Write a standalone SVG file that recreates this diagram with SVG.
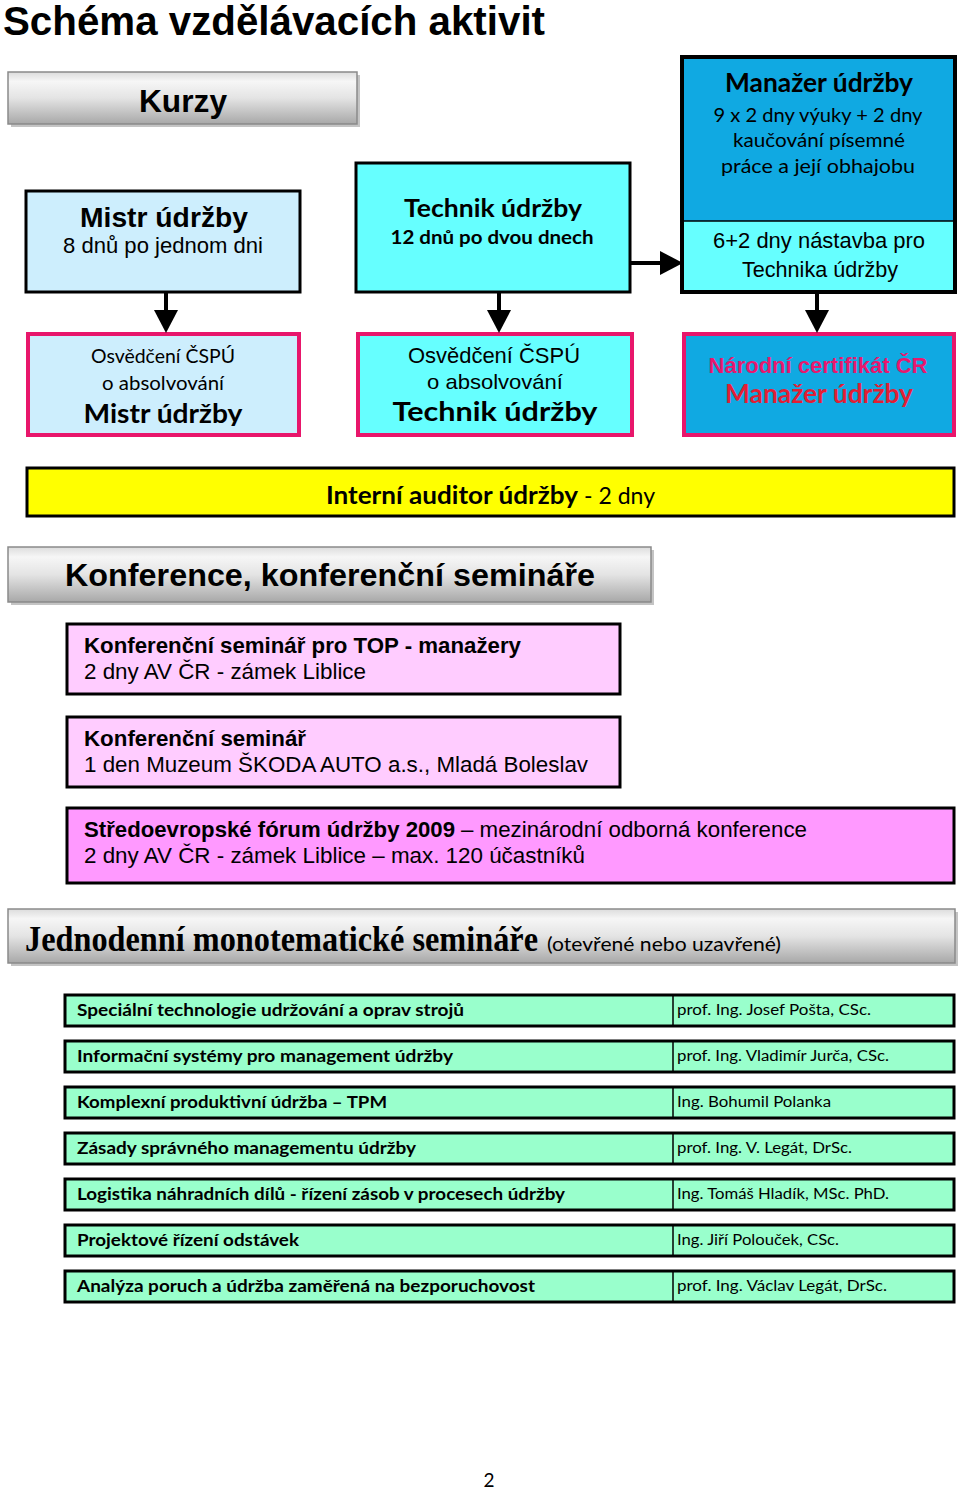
<svg xmlns="http://www.w3.org/2000/svg" width="960" height="1492" viewBox="0 0 960 1492">
<style>
.ar{font-family:"Liberation Sans",Arial,sans-serif}
.ca{font-family:Lato,"Open Sans",sans-serif}
.tm{font-family:"Liberation Serif","Times New Roman",serif}
.b{font-weight:bold}
.hdr{fill:url(#gray);stroke:#8a8a8a;stroke-width:1.5}
.shd{fill:#c4c4c4}
.box{stroke:#000;stroke-width:3}
.cert{stroke:#e8166b;stroke-width:4}
.row{fill:#99ffcc;stroke:#000;stroke-width:3}
.conn{stroke:#000;stroke-width:4;fill:none}
</style>
<defs>
<linearGradient id="gray" x1="0" y1="0" x2="0" y2="1">
<stop offset="0" stop-color="#dcdcdc"/>
<stop offset="0.18" stop-color="#f6f6f6"/>
<stop offset="0.5" stop-color="#e4e4e4"/>
<stop offset="1" stop-color="#a8a8a8"/>
</linearGradient>
<marker id="ah" markerUnits="userSpaceOnUse" markerWidth="24" markerHeight="24" viewBox="0 0 22 23" refX="0" refY="11.5" orient="auto">
<path d="M0,0 L22,11.5 L0,23 z" fill="#000"/>
</marker>
<clipPath id="clipMistr"><rect x="26" y="332" width="275" height="94"/></clipPath>
</defs>
<rect width="960" height="1492" fill="#fff"/>

<text x="3" y="35" class="ar b" font-size="40" textLength="542" lengthAdjust="spacingAndGlyphs">Schéma vzdělávacích aktivit</text>

<g id="kurzy">
<rect x="11" y="75" width="349" height="52" class="shd"/>
<rect x="8" y="72" width="349" height="52" class="hdr"/>
<text x="183" y="112" class="ar b" font-size="32" text-anchor="middle" textLength="88" lengthAdjust="spacingAndGlyphs">Kurzy</text>
</g>

<g id="mistr">
<rect x="26" y="191" width="274" height="101" fill="#cdeefd" class="box"/>
<text x="164" y="227" class="ar b" font-size="28" text-anchor="middle" textLength="168" lengthAdjust="spacingAndGlyphs">Mistr údržby</text>
<text x="163" y="253" class="ar" font-size="22" text-anchor="middle" textLength="200" lengthAdjust="spacingAndGlyphs">8 dnů po jednom dni</text>
</g>

<g id="technik">
<rect x="356" y="163" width="274" height="129" fill="#66ffff" class="box"/>
<text x="493" y="217" class="ca b" font-size="25" text-anchor="middle" textLength="178" lengthAdjust="spacingAndGlyphs">Technik údržby</text>
<text x="492" y="244" class="ca b" font-size="19" text-anchor="middle" textLength="203" lengthAdjust="spacingAndGlyphs">12 dnů po dvou dnech</text>
</g>

<g id="manazer">
<rect x="682" y="57" width="273" height="164" fill="#10a9e2"/>
<rect x="682" y="221" width="273" height="71" fill="#66ffff"/>
<line x1="682" y1="221" x2="955" y2="221" stroke="#000" stroke-width="1.5"/>
<rect x="682" y="57" width="273" height="235" fill="none" stroke="#000" stroke-width="4"/>
<text x="819" y="92" class="ca b" font-size="27" text-anchor="middle" textLength="188" lengthAdjust="spacingAndGlyphs">Manažer údržby</text>
<text x="818" y="122" class="ca" font-size="20" text-anchor="middle" textLength="209" lengthAdjust="spacingAndGlyphs">9 x 2 dny výuky + 2 dny</text>
<text x="819" y="147" class="ca" font-size="20" text-anchor="middle" textLength="172" lengthAdjust="spacingAndGlyphs">kaučování písemné</text>
<text x="818" y="173" class="ca" font-size="20" text-anchor="middle" textLength="194" lengthAdjust="spacingAndGlyphs">práce a její obhajobu</text>
<text x="819" y="248" class="ar" font-size="22" text-anchor="middle" textLength="212" lengthAdjust="spacingAndGlyphs">6+2 dny nástavba pro</text>
<text x="820" y="277" class="ar" font-size="22" text-anchor="middle" textLength="156" lengthAdjust="spacingAndGlyphs">Technika údržby</text>
</g>

<g id="cert-mistr">
<rect x="28" y="334" width="271" height="101" fill="#cdeefd" class="cert"/>
<text x="163" y="363" class="ca" font-size="20" text-anchor="middle" textLength="144" lengthAdjust="spacingAndGlyphs">Osvědčení ČSPÚ</text>
<text x="163" y="390" class="ca" font-size="20" text-anchor="middle" textLength="122" lengthAdjust="spacingAndGlyphs">o absolvování</text>
<text x="163" y="423" class="ca b" font-size="27" text-anchor="middle" textLength="159" lengthAdjust="spacingAndGlyphs" clip-path="url(#clipMistr)">Mistr údržby</text>
</g>

<g id="cert-technik">
<rect x="358" y="334" width="274" height="101" fill="#66ffff" class="cert"/>
<text x="494" y="363" class="ar" font-size="22" text-anchor="middle" textLength="172" lengthAdjust="spacingAndGlyphs">Osvědčení ČSPÚ</text>
<text x="495" y="389" class="ar" font-size="21" text-anchor="middle" textLength="136" lengthAdjust="spacingAndGlyphs">o absolvování</text>
<text x="495" y="421" class="ca b" font-size="27" text-anchor="middle" textLength="205" lengthAdjust="spacingAndGlyphs">Technik údržby</text>
</g>

<g id="cert-manazer">
<rect x="684" y="334" width="270" height="101" fill="#10a9e2" class="cert"/>
<text x="818" y="373" class="ar b" font-size="22" fill="#e8186e" text-anchor="middle" textLength="219" lengthAdjust="spacingAndGlyphs">Národní certifikát ČR</text>
<text x="819" y="403" class="ca b" font-size="27" fill="#e21e35" text-anchor="middle" textLength="188" lengthAdjust="spacingAndGlyphs">Manažer údržby</text>
</g>

<g id="auditor">
<rect x="27" y="468" width="927" height="48" fill="#ffff00" class="box"/>
<text x="326" y="504" class="ca b" font-size="24" textLength="252" lengthAdjust="spacingAndGlyphs">Interní auditor údržby</text>
<text x="584" y="504" class="ca" font-size="24" textLength="71" lengthAdjust="spacingAndGlyphs">- 2 dny</text>
</g>

<g id="connectors">
<line x1="166" y1="292" x2="166" y2="310" class="conn" marker-end="url(#ah)"/>
<line x1="499" y1="292" x2="499" y2="310" class="conn" marker-end="url(#ah)"/>
<line x1="817" y1="292" x2="817" y2="310" class="conn" marker-end="url(#ah)"/>
<line x1="630" y1="263" x2="660" y2="263" class="conn" marker-end="url(#ah)"/>
</g>

<g id="konference">
<rect x="11" y="550" width="643" height="55" class="shd"/>
<rect x="8" y="547" width="643" height="55" class="hdr"/>
<text x="65" y="586" class="ar b" font-size="32" textLength="530" lengthAdjust="spacingAndGlyphs">Konference, konferenční semináře</text>
</g>

<g id="konf-top">
<rect x="67" y="624" width="553" height="70" fill="#ffccff" class="box"/>
<text x="84" y="653" class="ar b" font-size="22" textLength="437" lengthAdjust="spacingAndGlyphs">Konferenční seminář pro TOP - manažery</text>
<text x="84" y="679" class="ar" font-size="22" textLength="282" lengthAdjust="spacingAndGlyphs">2 dny AV ČR - zámek Liblice</text>
</g>

<g id="konf-skoda">
<rect x="67" y="717" width="553" height="70" fill="#ffccff" class="box"/>
<text x="84" y="746" class="ar b" font-size="22" textLength="222" lengthAdjust="spacingAndGlyphs">Konferenční seminář</text>
<text x="84" y="772" class="ar" font-size="22" textLength="504" lengthAdjust="spacingAndGlyphs">1 den Muzeum ŠKODA AUTO a.s., Mladá Boleslav</text>
</g>

<g id="konf-forum">
<rect x="67" y="808" width="887" height="75" fill="#ff99ff" class="box"/>
<text x="84" y="837" class="ar b" font-size="22" textLength="371" lengthAdjust="spacingAndGlyphs">Středoevropské fórum údržby 2009</text>
<text x="461" y="837" class="ar" font-size="22" textLength="346" lengthAdjust="spacingAndGlyphs">– mezinárodní odborná konference</text>
<text x="84" y="863" class="ar" font-size="22" textLength="501" lengthAdjust="spacingAndGlyphs">2 dny AV ČR - zámek Liblice – max. 120 účastníků</text>
</g>

<g id="jednodenni">
<rect x="11" y="912" width="947" height="54" class="shd"/>
<rect x="8" y="909" width="947" height="54" class="hdr"/>
<text transform="translate(25,951) scale(1,1.1)" x="0" y="0" class="tm b" font-size="32" textLength="513" lengthAdjust="spacingAndGlyphs">Jednodenní monotematické semináře</text>
<text x="547" y="951" class="ca" font-size="19" textLength="234" lengthAdjust="spacingAndGlyphs">(otevřené nebo uzavřené)</text>
</g>

<g id="sem1">
<rect x="65" y="995" width="889" height="31" class="row"/>
<line x1="673" y1="995" x2="673" y2="1026" stroke="#000" stroke-width="1.5"/>
<text x="77" y="1016" class="ca b" font-size="17" textLength="387" lengthAdjust="spacingAndGlyphs">Speciální technologie udržování a oprav strojů</text>
<text x="677" y="1015" class="ca" font-size="15.5" textLength="194" lengthAdjust="spacingAndGlyphs">prof. Ing. Josef Pošta, CSc.</text>
</g>
<g id="sem2">
<rect x="65" y="1041" width="889" height="31" class="row"/>
<line x1="673" y1="1041" x2="673" y2="1072" stroke="#000" stroke-width="1.5"/>
<text x="77" y="1062" class="ca b" font-size="17" textLength="376" lengthAdjust="spacingAndGlyphs">Informační systémy pro management údržby</text>
<text x="677" y="1061" class="ca" font-size="15.5" textLength="212" lengthAdjust="spacingAndGlyphs">prof. Ing. Vladimír Jurča, CSc.</text>
</g>
<g id="sem3">
<rect x="65" y="1087" width="889" height="31" class="row"/>
<line x1="673" y1="1087" x2="673" y2="1118" stroke="#000" stroke-width="1.5"/>
<text x="77" y="1108" class="ca b" font-size="17" textLength="310" lengthAdjust="spacingAndGlyphs">Komplexní produktivní údržba – TPM</text>
<text x="677" y="1107" class="ca" font-size="15.5" textLength="154" lengthAdjust="spacingAndGlyphs">Ing. Bohumil Polanka</text>
</g>
<g id="sem4">
<rect x="65" y="1133" width="889" height="31" class="row"/>
<line x1="673" y1="1133" x2="673" y2="1164" stroke="#000" stroke-width="1.5"/>
<text x="77" y="1154" class="ca b" font-size="17" textLength="339" lengthAdjust="spacingAndGlyphs">Zásady správného managementu údržby</text>
<text x="677" y="1153" class="ca" font-size="15.5" textLength="175" lengthAdjust="spacingAndGlyphs">prof. Ing. V. Legát, DrSc.</text>
</g>
<g id="sem5">
<rect x="65" y="1179" width="889" height="31" class="row"/>
<line x1="673" y1="1179" x2="673" y2="1210" stroke="#000" stroke-width="1.5"/>
<text x="77" y="1200" class="ca b" font-size="17" textLength="488" lengthAdjust="spacingAndGlyphs">Logistika náhradních dílů - řízení zásob v procesech údržby</text>
<text x="677" y="1199" class="ca" font-size="15.5" textLength="212" lengthAdjust="spacingAndGlyphs">Ing. Tomáš Hladík, MSc. PhD.</text>
</g>
<g id="sem6">
<rect x="65" y="1225" width="889" height="31" class="row"/>
<line x1="673" y1="1225" x2="673" y2="1256" stroke="#000" stroke-width="1.5"/>
<text x="77" y="1246" class="ca b" font-size="17" textLength="222" lengthAdjust="spacingAndGlyphs">Projektové řízení odstávek</text>
<text x="677" y="1245" class="ca" font-size="15.5" textLength="162" lengthAdjust="spacingAndGlyphs">Ing. Jiří Polouček, CSc.</text>
</g>
<g id="sem7">
<rect x="65" y="1271" width="889" height="31" class="row"/>
<line x1="673" y1="1271" x2="673" y2="1302" stroke="#000" stroke-width="1.5"/>
<text x="77" y="1292" class="ca b" font-size="17" textLength="458" lengthAdjust="spacingAndGlyphs">Analýza poruch a údržba zaměřená na bezporuchovost</text>
<text x="677" y="1291" class="ca" font-size="15.5" textLength="210" lengthAdjust="spacingAndGlyphs">prof. Ing. Václav Legát, DrSc.</text>
</g>

<text x="489" y="1487" class="ca" font-size="19" text-anchor="middle">2</text>
</svg>
